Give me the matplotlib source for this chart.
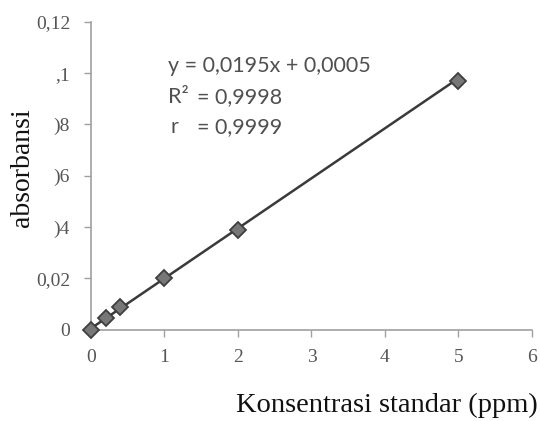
import matplotlib
matplotlib.use("Agg")
import matplotlib.pyplot as plt
import numpy as np

conc = [0, 0.2, 0.4, 1, 2, 5]
absorb = [0.0, 0.0045, 0.009, 0.0202, 0.0388, 0.0968]
slope = 0.0195
intercept = 0.0005
xticks = [0, 1, 2, 3, 4, 5, 6]
yticks = [0, 0.02, 0.04, 0.06, 0.08, 0.10, 0.12]
ytick_labels = ["0", "0,02", ")4", ")6", ")8", ",1", "0,12"]

fig = plt.figure(figsize=(5.4, 4.21), dpi=100)
ax = fig.add_axes([0.1685, 0.217, 0.8165, 0.731])

xf = np.array([min(conc), max(conc)])
ax.plot(xf, slope * xf + intercept, color="#3a3a3a", lw=1.8, zorder=2, clip_on=False)
ax.plot(conc, absorb, linestyle="none", marker="D", markersize=8.5,
        markerfacecolor="#777777", markeredgecolor="#3f3f3f", markeredgewidth=1.3,
        zorder=3, clip_on=False)

ax.set_xlim(0, 6)
ax.set_ylim(0, 0.12)
ax.set_xticks(xticks)
ax.set_xticklabels([str(t) for t in xticks])
ax.set_yticks(yticks)
ax.set_yticklabels(ytick_labels)

for s in ["top", "right"]:
    ax.spines[s].set_visible(False)
for s in ["left", "bottom"]:
    ax.spines[s].set_color("#a0a0a0")
    ax.spines[s].set_linewidth(1.2)
ax.tick_params(axis="x", colors="#a0a0a0", length=5, width=1.0, direction="out",
               labelcolor="#555555", labelsize=14, pad=9)
ax.tick_params(axis="y", colors="#a0a0a0", length=5, width=1.0, direction="out",
               labelcolor="#555555", labelsize=14, pad=10)
for lab in ax.get_xticklabels() + ax.get_yticklabels():
    lab.set_fontfamily("Liberation Serif")

tkw = dict(transform=ax.transAxes, fontsize=15.5, color="#505050", family="Lato", va="center")
ax.text(0.175, 0.856, "y = 0,0195x + 0,0005", **tkw)
ax.text(0.175, 0.755, "R²", **tkw)
ax.text(0.240, 0.755, "= 0,9998", **tkw)
ax.text(0.180, 0.657, "r", **tkw)
ax.text(0.240, 0.657, "= 0,9999", **tkw)

fig.text(0.995, 0.022, "Konsentrasi standar (ppm)", ha="right", va="baseline",
         fontsize=20.5, family="Liberation Serif", color="#111111")
fig.text(0.041, 0.603, "absorbansi", ha="center", va="center", rotation=90,
         fontsize=20, family="Liberation Serif", color="#111111")

fig.savefig("out.png", dpi=100)
